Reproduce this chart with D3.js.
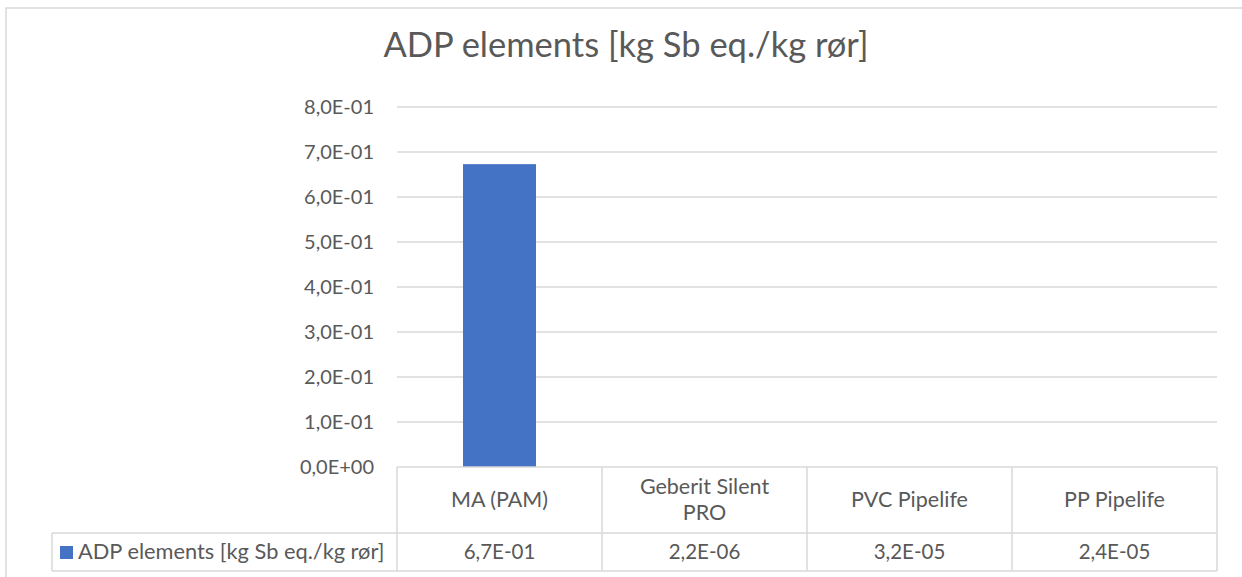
<!DOCTYPE html>
<html>
<head>
<meta charset="utf-8">
<script src="https://cdn.jsdelivr.net/npm/d3@7"></script>
<style>
  body { margin: 0; background: #fff; }
  text { font-family: Lato, "Open Sans", sans-serif; fill: #595959; }
</style>
</head>
<body>
<div id="chart"></div>
<script>
// data
var title = 'ADP elements [kg Sb eq./kg rør]';
var seriesName = 'ADP elements [kg Sb eq./kg rør]';
var categories = ['MA (PAM)', 'Geberit Silent PRO', 'PVC Pipelife', 'PP Pipelife'];
var catLines = [['MA (PAM)'], ['Geberit Silent', 'PRO'], ['PVC Pipelife'], ['PP Pipelife']];
var values = [0.673, 2.2e-6, 3.2e-5, 2.4e-5];
var yTicks = [0, 0.1, 0.2, 0.3, 0.4, 0.5, 0.6, 0.7, 0.8];

var W = 1242, H = 577;
var plot = { left: 397, right: 1217, top: 107, bottom: 467 };
var table = { legendLeft: 52, row1: 533, row2: 571 };
var grid = '#d9d9d9', barColor = '#4472C4';

function sci(v) {
  // 6.7e-1 -> 6,7E-01
  var s = v.toExponential(1).split('e');
  var exp = +s[1];
  var e = (exp < 0 ? '-' : '+') + (Math.abs(exp) < 10 ? '0' : '') + Math.abs(exp);
  return s[0].replace('.', ',') + 'E' + e;
}

var svg = d3.select('#chart').append('svg')
  .attr('width', W)
  .attr('height', H);

// chart border
svg.append('rect')
  .attr('x', 6).attr('y', 8)
  .attr('width', W + 20).attr('height', H + 20)
  .attr('fill', 'none')
  .attr('stroke', grid)
  .attr('stroke-width', 1.5);

svg.append('text')
  .attr('x', 626)
  .attr('y', 57)
  .attr('text-anchor', 'middle')
  .style('font-size', '34.5px')
  .text(title);

var x = d3.scaleBand()
  .domain(categories)
  .range([plot.left, plot.right])
  .padding(0);

var y = d3.scaleLinear()
  .domain([0, 0.8])
  .range([plot.bottom, plot.top]);

// gridlines
svg.append('g')
  .selectAll('line')
  .data(yTicks.filter(function(d) { return d > 0; }))
  .enter().append('line')
  .attr('x1', plot.left).attr('x2', plot.right)
  .attr('y1', function(d) { return y(d); })
  .attr('y2', function(d) { return y(d); })
  .attr('stroke', grid)
  .attr('stroke-width', 1.5);

// y axis labels
var yAxis = d3.axisLeft(y)
  .tickValues(yTicks)
  .tickFormat(sci)
  .tickSize(0)
  .tickPadding(23);
var ya = svg.append('g')
  .attr('transform', 'translate(' + plot.left + ',0)')
  .call(yAxis);
ya.select('.domain').remove();
ya.selectAll('text')
  .style('font-size', '20px')
  .style('font-family', 'Lato, "Open Sans", sans-serif')
  .attr('fill', '#595959');

// bars
var barW = x.bandwidth() * 0.356;
svg.append('g')
  .selectAll('rect')
  .data(values)
  .enter().append('rect')
  .attr('x', function(d, i) { return x(categories[i]) + (x.bandwidth() - barW) / 2; })
  .attr('y', function(d) { return y(d); })
  .attr('width', barW)
  .attr('height', function(d) { return y(0) - y(d); })
  .attr('fill', barColor);

// data table
var t = svg.append('g')
  .attr('stroke', grid)
  .attr('stroke-width', 1.5);
t.append('line')
  .attr('x1', plot.left).attr('x2', plot.right)
  .attr('y1', plot.bottom).attr('y2', plot.bottom);
t.append('line')
  .attr('x1', table.legendLeft).attr('x2', plot.right)
  .attr('y1', table.row1).attr('y2', table.row1);
t.append('line')
  .attr('x1', table.legendLeft).attr('x2', plot.right)
  .attr('y1', table.row2).attr('y2', table.row2);
t.append('line')
  .attr('x1', table.legendLeft).attr('x2', table.legendLeft)
  .attr('y1', table.row1).attr('y2', table.row2);
t.selectAll('line.v')
  .data(categories.concat(['end']))
  .enter().append('line')
  .attr('class', 'v')
  .attr('x1', function(d, i) { return i < categories.length ? x(d) : plot.right; })
  .attr('x2', function(d, i) { return i < categories.length ? x(d) : plot.right; })
  .attr('y1', plot.bottom).attr('y2', table.row2);

// category labels
var cl = svg.append('g')
  .selectAll('text')
  .data(catLines)
  .enter().append('text')
  .attr('text-anchor', 'middle')
  .style('font-size', '21.5px')
  .attr('x', function(d, i) { return x(categories[i]) + x.bandwidth() / 2; })
  .attr('y', function(d) { return (plot.bottom + table.row1) / 2 + 7 - (d.length - 1) * 13; });
cl.selectAll('tspan')
  .data(function(d) { return d; })
  .enter().append('tspan')
  .attr('x', function() { return d3.select(this.parentNode).attr('x'); })
  .attr('dy', function(d, i) { return i === 0 ? 0 : 26; })
  .text(function(d) { return d; });

// values row
svg.append('g')
  .selectAll('text')
  .data(values)
  .enter().append('text')
  .attr('text-anchor', 'middle')
  .style('font-size', '20.5px')
  .attr('x', function(d, i) { return x(categories[i]) + x.bandwidth() / 2; })
  .attr('y', (table.row1 + table.row2) / 2 + 7)
  .text(sci);

// legend key
svg.append('rect')
  .attr('x', 60).attr('y', 546)
  .attr('width', 13).attr('height', 13)
  .attr('fill', barColor);
svg.append('text')
  .attr('x', 78)
  .attr('y', (table.row1 + table.row2) / 2 + 7)
  .style('font-size', '21.8px')
  .text(seriesName);
</script>
</body>
</html>
